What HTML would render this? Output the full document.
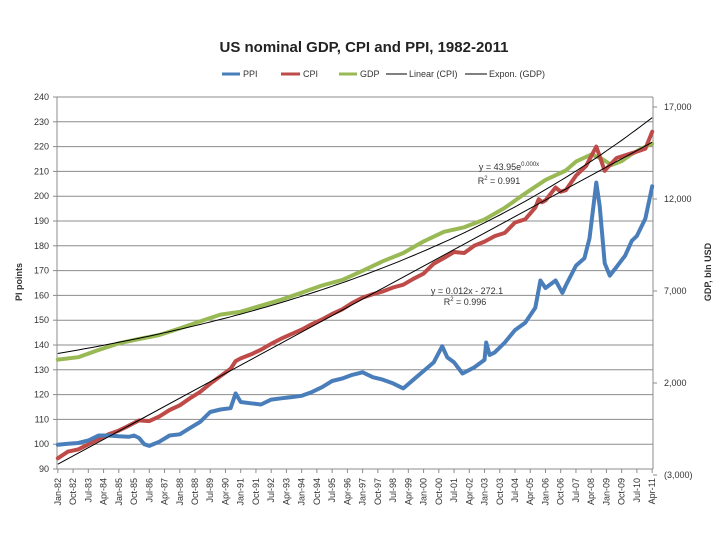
<!DOCTYPE html>
<html><head><meta charset="utf-8"><style>
body{margin:0;background:#fff}
svg{display:block;font-family:"Liberation Sans",sans-serif}
</style></head><body>
<svg id="chart" width="728" height="546" viewBox="0 0 728 546">
<text x="364" y="52" text-anchor="middle" font-size="15" font-weight="bold" fill="#222">US nominal GDP, CPI and PPI, 1982-2011</text>
<g font-size="9" fill="#333">
<g><line x1="222" y1="74" x2="240" y2="74" stroke="#4a7ebb" stroke-width="3"/><text x="243" y="77">PPI</text></g>
<g><line x1="281" y1="74" x2="300" y2="74" stroke="#be4b48" stroke-width="3"/><text x="303" y="77">CPI</text></g>
<g><line x1="339" y1="74" x2="357" y2="74" stroke="#98b954" stroke-width="3"/><text x="360" y="77">GDP</text></g>
<g><line x1="386" y1="74" x2="407" y2="74" stroke="#000" stroke-width="1"/><text x="409" y="77">Linear (CPI)</text></g>
<g><line x1="465" y1="74" x2="487" y2="74" stroke="#000" stroke-width="1"/><text x="489" y="77">Expon. (GDP)</text></g>
</g>
<g id="grid"></g><g id="axes"></g><g id="series"></g>
<text transform="translate(22,282) rotate(-90)" text-anchor="middle" font-size="9" font-weight="bold" fill="#333">PI points</text>
<text transform="translate(711,272) rotate(-90)" text-anchor="middle" font-size="9" font-weight="bold" fill="#333">GDP, bln USD</text>
<g font-size="9" fill="#333" text-anchor="middle">
<text x="509" y="170">y = 43.95e<tspan font-size="6" dy="-4">0.000x</tspan></text>
<text x="499" y="184">R<tspan font-size="6" dy="-4">2</tspan><tspan dy="4"> = 0.991</tspan></text>
<text x="467" y="294">y = 0.012x - 272.1</text>
<text x="465" y="305">R<tspan font-size="6" dy="-4">2</tspan><tspan dy="4"> = 0.996</tspan></text>
</g>
</svg>
<script>
const leftTicks=[90,100,110,120,130,140,150,160,170,180,190,200,210,220,230,240];
const rightTicks=[-3000,2000,7000,12000,17000];
const rightTickLabels=['(3,000)','2,000','7,000','12,000','17,000'];
const ppiDates=['1982-01','1982-07','1983-01','1983-07','1984-01','1984-07','1985-01','1985-07','1985-10','1986-01','1986-04','1986-07','1987-01','1987-07','1988-01','1988-07','1989-01','1989-07','1990-01','1990-07','1990-10','1991-01','1991-07','1992-01','1992-07','1993-01','1993-07','1994-01','1994-07','1995-01','1995-07','1996-01','1996-07','1997-01','1997-07','1998-01','1998-07','1999-01','1999-07','2000-01','2000-07','2000-12','2001-03','2001-07','2001-12','2002-07','2003-01','2003-02','2003-04','2003-07','2004-01','2004-07','2005-01','2005-07','2005-10','2006-01','2006-07','2006-11','2007-01','2007-07','2007-12','2008-03','2008-07','2008-09','2008-12','2009-03','2009-07','2009-12','2010-04','2010-07','2010-12','2011-04'];
const ppiValues=[99.8,100.2,100.5,101.5,103.5,103.5,103.2,103,103.5,102.5,100,99.3,101,103.5,104,106.5,109,113,114,114.5,120.5,117,116.5,116,118,118.5,119,119.5,121,123,125.5,126.5,128,129,127,126,124.5,122.5,126,129.5,133,139.5,135,133,128.5,131,134,141,136,137,141,146,149,155,166,163,166,161,164,172,175,183,205.5,196,173,168,171.5,176,182,184,191,204];
const cpiDates=['1982-01','1982-07','1983-01','1983-07','1984-01','1984-07','1985-01','1985-07','1986-01','1986-07','1987-01','1987-07','1988-01','1988-07','1989-01','1989-07','1990-01','1990-07','1990-10','1991-01','1991-07','1992-01','1992-07','1993-01','1993-07','1994-01','1994-07','1995-01','1995-07','1996-01','1996-07','1997-01','1997-07','1998-01','1998-07','1999-01','1999-07','2000-01','2000-07','2001-01','2001-07','2002-01','2002-07','2003-01','2003-07','2004-01','2004-07','2005-01','2005-07','2005-09','2005-11','2006-01','2006-07','2006-10','2007-01','2007-07','2008-01','2008-07','2008-12','2009-01','2009-07','2010-01','2010-07','2010-12','2011-04'];
const cpiValues=[94.3,97,97.9,99.9,102,104,105.5,107.5,109.6,109.3,111.2,113.8,115.7,118.5,121.1,124.4,127.4,130.4,133.5,134.6,136.2,138.1,140.5,142.6,144.4,146.2,148.4,150.3,152.5,154.4,157,159.1,160.5,161.6,163.2,164.3,166.7,168.8,172.8,175.1,177.5,177.1,180.1,181.7,183.9,185.2,189.4,190.7,195.4,198.8,197.6,198.3,203.5,201.8,202.4,208.3,212.2,220,210.2,211.1,215.4,216.7,218,219.2,226];
const gdpDates=['1982-01','1983-01','1984-01','1985-01','1986-01','1987-01','1988-01','1989-01','1990-01','1991-01','1992-01','1993-01','1994-01','1995-01','1996-01','1997-01','1998-01','1999-01','2000-01','2001-01','2002-01','2003-01','2004-01','2005-01','2006-01','2007-01','2007-07','2008-04','2008-10','2009-04','2009-10','2010-04','2010-10','2011-04'];
const gdpValues=[3274,3402,3794,4155,4391,4608,4969,5349,5720,5877,6201,6528,6905,7300,7602,8097,8617,9066,9695,10220,10462,10884,11520,12306,13038,13551,14035,14416,14200,13850,14061,14446,14755,15003];

const NS='http://www.w3.org/2000/svg';
const X0=57,X1=653,YT=97,YB=469,NM=352;
const mon=d=>{const [y,m]=d.split('-').map(Number);return (y-1982)*12+m-1;};
const xs=i=>X0+(i+0.5)*(X1-X0)/NM;
const yl=v=>YB-(v-90)*(YB-YT)/150;
const yr=v=>475-(v+3000)*92/5000;
function mk(tag,attrs,parent){const e=document.createElementNS(NS,tag);for(const k in attrs)e.setAttribute(k,attrs[k]);parent.appendChild(e);return e;}
const grid=document.getElementById('grid'),axes=document.getElementById('axes'),series=document.getElementById('series');
leftTicks.forEach(v=>{
  const l=mk('line',{x1:X0,x2:X1,y1:yl(v),y2:yl(v),stroke:'#8c8c8c','stroke-width':1},grid);
  
  
  const t=mk('text',{x:X0-8,y:yl(v)+3,'text-anchor':'end','font-size':9,fill:'#333'},axes);
  t.textContent=v;
  
  
  mk('line',{x1:X0-4,x2:X0,y1:yl(v),y2:yl(v),stroke:'#8c8c8c'},axes);
});
const la=mk('line',{x1:X0,x2:X0,y1:YT,y2:YB,stroke:'#8c8c8c'},axes);


const ra=mk('line',{x1:X1,x2:X1,y1:YT,y2:YB,stroke:'#8c8c8c'},axes);


rightTicks.forEach((v,i)=>{
  mk('line',{x1:X1,x2:X1+4,y1:yr(v),y2:yr(v),stroke:'#8c8c8c'},axes);
  const t=mk('text',{x:X1+11,y:yr(v)+3,'font-size':9,fill:'#333'},axes);
  t.textContent=rightTickLabels[i];
  
  
});
const mn=['Jan','Feb','Mar','Apr','May','Jun','Jul','Aug','Sep','Oct','Nov','Dec'];
for(let i=0;i<NM;i+=9){
  const x=xs(i);
  mk('line',{x1:x,x2:x,y1:YB,y2:YB+4,stroke:'#8c8c8c'},axes);
  const y=1982+Math.floor(i/12),lab=mn[i%12]+'-'+String(y%100).padStart(2,'0');
  const t=mk('text',{transform:`translate(${x+3},${YB+9}) rotate(-90)`,'text-anchor':'end','font-size':9,fill:'#333'},axes);
  t.textContent=lab;
  
  
}
function poly(dates,vals,yf,color,name){
  const p=dates.map((d,i)=>xs(mon(d)).toFixed(1)+','+yf(vals[i]).toFixed(1)).join(' ');
  const e=mk('polyline',{points:p,fill:'none',stroke:color,'stroke-width':4,'stroke-linejoin':'round','stroke-linecap':'round'},series);
  
  
}
poly(gdpDates,gdpValues,yr,'#98b954','gdp-line');
poly(cpiDates,cpiValues,yl,'#be4b48','cpi-line');
poly(ppiDates,ppiValues,yl,'#4a7ebb','ppi-line');
// linear trend CPI
function fit(xa,ya){const n=xa.length;let sx=0,sy=0,sxx=0,sxy=0;for(let i=0;i<n;i++){sx+=xa[i];sy+=ya[i];sxx+=xa[i]*xa[i];sxy+=xa[i]*ya[i];}const b=(n*sxy-sx*sy)/(n*sxx-sx*sx);return [(sy-b*sx)/n,b];}
const [ca,cb]=fit(cpiDates.map(mon),cpiValues);
const lt=mk('line',{x1:xs(0),y1:yl(ca),x2:xs(NM-1),y2:yl(ca+cb*(NM-1)),stroke:'#000','stroke-width':1},series);


const [ga,gb]=fit(gdpDates.map(mon),gdpValues.map(Math.log));
let ep=[];for(let i=0;i<NM;i+=3)ep.push(xs(i).toFixed(1)+','+yr(Math.exp(ga+gb*i)).toFixed(1));
ep.push(xs(NM-1).toFixed(1)+','+yr(Math.exp(ga+gb*(NM-1))).toFixed(1));
const et=mk('polyline',{points:ep.join(' '),fill:'none',stroke:'#000','stroke-width':1},series);


</script>
</body></html>
